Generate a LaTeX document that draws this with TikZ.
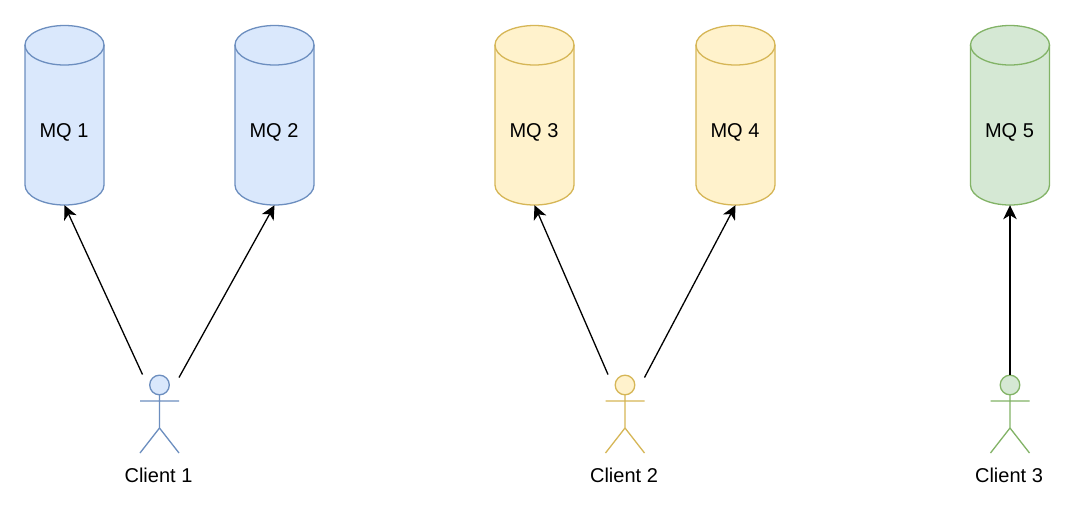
\documentclass[tikz,border=0pt]{standalone}
\usepackage{fontspec}
\setmainfont{Liberation Sans}
\usetikzlibrary{arrows.meta}
\definecolor{bluefill}{HTML}{DAE8FC}\definecolor{blueline}{HTML}{6C8EBF}
\definecolor{yellowfill}{HTML}{FFF2CC}\definecolor{yellowline}{HTML}{D6B656}
\definecolor{greenfill}{HTML}{D5E8D4}\definecolor{greenline}{HTML}{82B366}
\tikzset{
  queuebox/.style={minimum width=79pt,minimum height=179pt,inner sep=0pt,font=\fontsize{20}{24}\selectfont,text=black},
  actorbox/.style={minimum width=39pt,minimum height=78pt,inner sep=0pt},
  actorlabel/.style={inner sep=0pt,font=\fontsize{20}{24}\selectfont,text=black},
  link/.style={draw=black,line width=1.3pt,-{Stealth[length=14pt,width=13.5pt,inset=4pt]}},
  shapeline/.style={line width=1.3pt,line join=round}
}
% #1 name, #2 centre x, #3 label, #4 fill, #5 line
\newcommand{\mqcyl}[5]{%
  \filldraw[shapeline,fill=#4,draw=#5]
    (#2-39.5,45) -- (#2-39.5,185) arc[start angle=180,end angle=360,x radius=39.5,y radius=-20]
    -- (#2+39.5,45) arc[start angle=0,end angle=180,x radius=39.5,y radius=-19.5] -- cycle;
  \draw[shapeline,draw=#5] (#2-39.5,45) arc[start angle=180,end angle=360,x radius=39.5,y radius=-20];
  \node[queuebox] (#1) at (#2,115.5) {};
  \node[queuebox] at (#2-0.5,132) {#3};
}
% #1 name, #2 centre x, #3 label, #4 fill, #5 line
\newcommand{\actorfig}[5]{%
  \node[actorbox] (#1) at (#2,414) {};
  \coordinate (#1 left) at (#2-17,374.5);
  \coordinate (#1 right) at (#2+19.5,377.5);
  \draw[shapeline,draw=#5,fill=#4] (#2,385) circle[radius=9.8];
  \draw[shapeline,draw=#5] (#2,395) -- (#2,428) (#2-19.5,401) -- (#2+19.5,401)
    (#2-19.5,453) -- (#2,428) -- (#2+19.5,453);
  \node[actorlabel] (#1label) at (#2-1,475) {#3};
}
\begin{document}
\begin{tikzpicture}[x=1pt,y=-1pt]
\useasboundingbox (0,0) rectangle (1080,512);
\fill[white] (0,0) rectangle (1080,512);
\mqcyl{mqa}{64.5}{MQ 1}{bluefill}{blueline}
\mqcyl{mqb}{274.5}{MQ 2}{bluefill}{blueline}
\mqcyl{mqc}{534.5}{MQ 3}{yellowfill}{yellowline}
\mqcyl{mqd}{735.5}{MQ 4}{yellowfill}{yellowline}
\mqcyl{mqe}{1010}{MQ 5}{greenfill}{greenline}
\actorfig{clienta}{159.5}{Client 1}{bluefill}{blueline}
\actorfig{clientb}{625}{Client 2}{yellowfill}{yellowline}
\actorfig{clientc}{1010}{Client 3}{greenfill}{greenline}
\draw[link] (clienta left) -- (mqa.south);
\draw[link] (clienta right) -- (mqb.south);
\draw[link] (clientb left) -- (mqc.south);
\draw[link] (clientb right) -- (mqd.south);
\draw[link] (clientc.north) -- (mqe.south);
\end{tikzpicture}
\end{document}
